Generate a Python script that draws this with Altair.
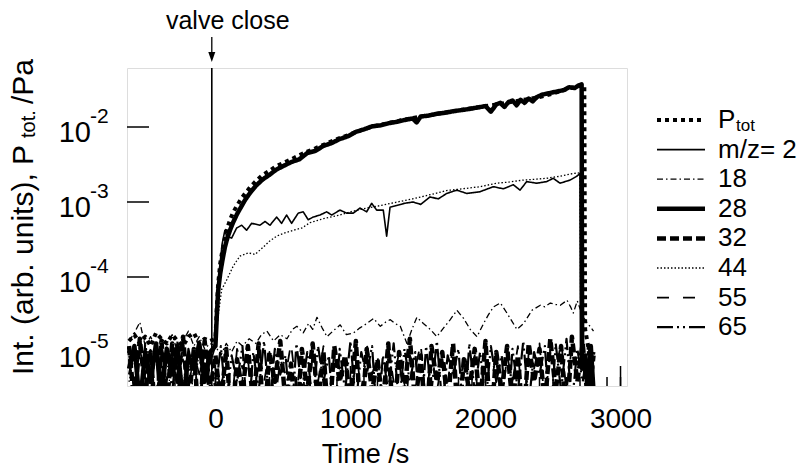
import altair as alt
import pandas as pd

# ---------------- data ----------------
SERIES = ["P_tot", "2", "18", "28", "32", "44", "55", "65"]
LEGEND_LABELS = ["P", "m/z= 2", "18", "28", "32", "44", "55", "65"]

# time grid before valve close (s)
PRE_T = [-640, -600, -560, -520, -480, -440, -400, -360, -320, -280, -240, -200, -160, -120, -80, -40]

# noise-level series time grid (s)
NOISE_T = [-640, -600, -560, -520, -480, -440, -400, -360, -320, -280, -240, -200, -160, -120, -80, -40,
           0, 40, 80, 120, 160, 200, 240, 280, 320, 360, 400, 440, 480, 520, 560, 600, 640, 680, 720, 760,
           800, 840, 880, 920, 960, 1000, 1040, 1080, 1120, 1160, 1200, 1240, 1280, 1320, 1360, 1400, 1440,
           1480, 1520, 1560, 1600, 1640, 1680, 1720, 1760, 1800, 1840, 1880, 1920, 1960, 2000, 2040, 2080,
           2120, 2160, 2200, 2240, 2280, 2320, 2360, 2400, 2440, 2480, 2520, 2560, 2600, 2640, 2680, 2720,
           2760, 2800]

# noise values in units of 1e-6
N32_U = [12, 2, 15, 3, 10, 1, 14, 2, 13, 4,
         16, 2, 11, 1, 14, 3, 9, 2, 11, 1,
         8, 3, 12, 2, 13, 1, 10, 4, 14, 2,
         7, 1, 11, 3, 13, 2, 10, 1, 12, 4,
         9, 2, 14, 1, 11, 3, 8, 2, 13, 1,
         10, 3, 15, 2, 9, 1, 12, 4, 10, 2,
         13, 1, 8, 3, 11, 2, 14, 1, 10, 3,
         12, 2, 9, 1, 13, 4, 11, 2, 15, 3,
         12, 1, 16, 4, 13, 2, 9]
N55_U = [9, 3, 13, 5, 11, 2, 12, 6, 10, 3,
         14, 4, 9, 2, 12, 5, 8, 3, 10, 2,
         11, 6, 9, 1, 12, 4, 10, 2, 8, 5,
         13, 3, 9, 1, 11, 4, 12, 2, 10, 6,
         8, 1, 11, 3, 13, 5, 9, 2, 12, 4,
         10, 1, 9, 6, 13, 2, 11, 3, 8, 4,
         12, 2, 10, 5, 9, 1, 13, 3, 11, 2,
         9, 4, 12, 1, 10, 6, 13, 2, 11, 5,
         14, 3, 12, 7, 10, 2, 8]
N65_U = [5, 11, 2, 13, 4, 10, 1, 12, 3, 14,
         2, 11, 5, 13, 1, 10, 3, 12, 2, 9,
         4, 12, 1, 10, 3, 14, 2, 11, 5, 9,
         1, 13, 3, 10, 2, 12, 4, 9, 1, 11,
         3, 14, 2, 10, 5, 12, 1, 9, 3, 13,
         2, 11, 4, 10, 1, 12, 3, 14, 2, 9,
         5, 11, 1, 13, 3, 10, 2, 12, 4, 9,
         1, 11, 3, 14, 2, 10, 5, 12, 1, 13,
         3, 15, 2, 11, 4, 12, 6]

# pre-valve values (units of 1e-6)
PT_PRE_U = [14, 17, 13, 16, 12, 18, 15, 13, 17, 14, 12, 16, 18, 13, 15, 14]
M2_PRE_U = [8, 3, 11, 5, 9, 2, 10, 4, 12, 6, 8, 3, 10, 5, 9, 7]
M28_PRE_U = [6, 12, 2, 10, 4, 13, 3, 11, 5, 12, 2, 9, 6, 13, 4, 10]
M44_PRE_U = [4, 9, 2, 7, 3, 10, 5, 8, 2, 9, 4, 7, 3, 10, 6, 8]

# m/z 18
M18_T = [-640, -600, -560, -520, -480, -440, -400, -360, -320, -280, -240, -200, -160, -120, -80, -40,
         0, 40, 80, 120, 160, 200, 250, 300, 340, 381, 430, 480, 530, 570, 603, 650, 690, 720, 752, 790,
         826, 870, 924, 970, 1024, 1070, 1122, 1171, 1221, 1260, 1295, 1330, 1369, 1418, 1455, 1492, 1540,
         1591, 1640, 1690, 1739, 1788, 1838, 1887, 1937, 1986, 2020, 2060, 2110, 2159, 2200, 2233, 2283,
         2344, 2406, 2440, 2480, 2520, 2554, 2604, 2630, 2650, 2680, 2720, 2750, 2774, 2800]
M18_U = [14, 18, 25, 12, 16, 11, 15, 13, 17, 10, 14, 19, 12, 16, 11, 13,
         12, 9, 13, 10, 14, 12, 15, 13, 17, 19, 14, 17, 15, 20, 22, 18, 24, 20, 29, 21,
         16, 19, 23, 17, 18, 21, 24, 28, 22, 25, 27, 24, 22, 13, 20, 29, 24,
         20, 16, 21, 27, 36, 28, 20, 16, 24, 31, 40, 45, 33, 25, 20, 24,
         36, 42, 40, 45, 43, 42, 49, 40, 33, 48, 30, 25, 22, 19]

# m/z 28 after valve close
M28_T_POST = [0, 10, 20, 35, 50, 70, 90, 110, 130, 160, 190, 220, 260, 300, 350, 400, 450, 500, 560, 620,
              680, 740, 800, 860, 920, 980, 1040, 1100, 1160, 1220, 1280, 1340, 1400, 1460, 1490, 1520, 1580,
              1640, 1700, 1760, 1820, 1880, 1940, 2000, 2040, 2080, 2110, 2140, 2170, 2200, 2230, 2260, 2290,
              2320, 2350, 2380, 2420, 2460, 2500, 2540, 2580, 2620, 2660, 2690, 2712, 2716, 2740, 2760, 2780, 2800]
M28_POST = [1.2e-5, 3e-5, 6.5e-5, 1.1e-4, 1.6e-4, 2.5e-4, 3.4e-4, 4.3e-4, 5.3e-4, 6.9e-4,
            8.6e-4, 1.07e-3, 1.35e-3, 1.65e-3, 2.0e-3, 2.3e-3, 2.7e-3, 3.0e-3, 3.4e-3, 3.7e-3,
            4.5e-3, 4.8e-3, 5.6e-3, 6.1e-3, 6.9e-3, 7.5e-3, 8.6e-3, 9.3e-3, 1.02e-2, 1.05e-2,
            1.12e-2, 1.17e-2, 1.24e-2, 1.3e-2, 1.15e-2, 1.38e-2, 1.42e-2, 1.5e-2, 1.55e-2, 1.62e-2,
            1.68e-2, 1.74e-2, 1.82e-2, 1.9e-2, 1.6e-2, 2.0e-2, 2.1e-2, 1.85e-2, 2.15e-2, 2.25e-2,
            1.95e-2, 2.3e-2, 2.1e-2, 2.4e-2, 2.2e-2, 2.5e-2, 2.7e-2, 2.8e-2, 2.9e-2, 3.0e-2,
            3.1e-2, 3.4e-2, 3.3e-2, 3.6e-2, 3.7e-2, 6e-6, 9e-6, 2e-6, 1.2e-5, 3e-6]

# total pressure after valve close
PT_T_POST = [0, 10, 20, 35, 50, 70, 90, 110, 130, 160, 190, 220, 260, 300, 350, 400, 450, 500, 560, 620,
             680, 740, 800, 900, 1000, 1100, 1200, 1300, 1400, 1500, 1600, 1700, 1800, 1900, 2000, 2100,
             2200, 2300, 2400, 2500, 2600, 2700, 2732, 2738, 2760, 2780, 2800]
PT_POST = [1.5e-5, 4e-5, 8e-5, 1.5e-4, 2.2e-4, 3.3e-4, 4.6e-4, 5.9e-4, 7.2e-4, 9e-4,
           1.1e-3, 1.3e-3, 1.6e-3, 1.9e-3, 2.3e-3, 2.6e-3, 3.0e-3, 3.3e-3, 3.7e-3, 4.2e-3,
           4.7e-3, 5.2e-3, 5.8e-3, 6.9e-3, 8.0e-3, 9.4e-3, 1.05e-2, 1.15e-2, 1.25e-2, 1.36e-2,
           1.46e-2, 1.56e-2, 1.67e-2, 1.78e-2, 1.9e-2, 2.02e-2, 2.17e-2, 2.33e-2, 2.5e-2, 2.8e-2,
           3.2e-2, 3.55e-2, 3.55e-2, 2e-5, 1.2e-5, 6e-6, 1e-5]

# m/z 2 after valve close
M2_T_POST = [0, 15, 30, 50, 70, 83, 120, 157, 194, 231, 268, 330, 367, 404, 453, 490, 527, 564, 613, 650,
             687, 724, 774, 824, 861, 922, 972, 1021, 1070, 1120, 1157, 1194, 1243, 1268, 1293, 1342, 1400,
             1463, 1520, 1589, 1650, 1713, 1787, 1861, 1959, 2058, 2132, 2206, 2256, 2305, 2379, 2453, 2502,
             2552, 2626, 2675, 2700, 2704, 2740, 2780, 2800]
M2_POST = [1.2e-5, 5e-5, 1.3e-4, 2.8e-4, 4.2e-4, 3.5e-4, 3.3e-4, 4.5e-4, 4.9e-4, 4.2e-4,
           5.2e-4, 4.9e-4, 5.5e-4, 4.9e-4, 6.3e-4, 5.2e-4, 6.7e-4, 5.2e-4, 7.1e-4, 7.4e-4,
           5.8e-4, 6.3e-4, 6.7e-4, 7.4e-4, 6.7e-4, 7.8e-4, 7.1e-4, 7.1e-4, 8.3e-4, 7.4e-4,
           9.6e-4, 7.8e-4, 7.8e-4, 3.5e-4, 8.5e-4, 9.0e-4, 9.6e-4, 1.0e-3, 9.3e-4, 1.17e-3,
           1.1e-3, 1.3e-3, 1.44e-3, 1.3e-3, 1.37e-3, 1.6e-3, 1.5e-3, 1.7e-3, 1.44e-3, 1.87e-3,
           1.78e-3, 1.87e-3, 2.07e-3, 1.78e-3, 1.96e-3, 2.2e-3, 2.4e-3, 1e-5, 6e-6, 1.1e-5,
           4e-6]

# m/z 44 after valve close
M44_T_POST = [0, 20, 46, 83, 132, 181, 243, 293, 354, 400, 453, 502, 576, 640, 700, 800, 920, 1000, 1120,
              1240, 1370, 1460, 1590, 1710, 1830, 1960, 2080, 2180, 2280, 2380, 2450, 2550, 2650, 2700, 2706,
              2740, 2780, 2800]
M44_POST = [1.2e-5, 3e-5, 6.8e-5, 9.1e-5, 1.4e-4, 1.9e-4, 2.1e-4, 2.0e-4, 2.5e-4, 3.0e-4,
            3.5e-4, 3.8e-4, 4.2e-4, 4.5e-4, 5.3e-4, 6.0e-4, 6.7e-4, 7.4e-4, 8.3e-4, 9.1e-4,
            1.02e-3, 1.1e-3, 1.25e-3, 1.42e-3, 1.5e-3, 1.6e-3, 1.78e-3, 1.85e-3, 1.96e-3, 2.02e-3,
            2.07e-3, 2.2e-3, 2.4e-3, 2.45e-3, 1e-5, 5e-6, 9e-6, 3e-6]

VALVE_T = -27
X_LABELS = [0, 1000, 2000, 3000]
X_MINOR = [-600, -500, -400, -300, -200, -100, 0, 100, 200, 300, 400, 500, 600, 700, 800, 900, 1000,
           1100, 1200, 1300, 1400, 1500, 1600, 1700, 1800, 1900, 2000, 2100, 2200, 2300, 2400, 2500, 2600,
           2700, 2800, 2900, 3000]
X_MAJOR = [0, 1000, 2000, 3000]
Y_TICKS = [1e-2, 1e-3, 1e-4, 1e-5]
Y_EXP = ["-2", "-3", "-4", "-5"]

# ---------------- styles ----------------
DASH = [[4, 4], [1, 0], [6, 3, 1.5, 3], [1, 0], [9, 4], [1.5, 2], [12, 14], [16, 4, 2, 4, 2, 4]]
WIDTH = [4, 1.6, 1.3, 4.5, 4.5, 1.3, 1.8, 2.2]
FONT = "Liberation Sans"

U = 1e-6
series_data = [
    ("P_tot", PRE_T + PT_T_POST, [v * U for v in PT_PRE_U] + PT_POST),
    ("2", PRE_T + M2_T_POST, [v * U for v in M2_PRE_U] + M2_POST),
    ("18", M18_T, [v * U for v in M18_U]),
    ("28", PRE_T + M28_T_POST, [v * U for v in M28_PRE_U] + M28_POST),
    ("32", NOISE_T, [v * U for v in N32_U]),
    ("44", PRE_T + M44_T_POST, [v * U for v in M44_PRE_U] + M44_POST),
    ("55", NOISE_T, [v * U for v in N55_U]),
    ("65", NOISE_T, [v * U for v in N65_U]),
]
rows = []
for name, ts, vs in series_data:
    assert len(ts) == len(vs), (name, len(ts), len(vs))
    for t, v in zip(ts, vs):
        rows.append({"t": t, "v": v, "s": name})
df = pd.DataFrame(rows)

W, H = 500, 318
X_SCALE = alt.Scale(domain=[-655, 3048], nice=False, zero=False)
Y_SCALE = alt.Scale(type="log", domain=[3.52e-6, 6.12e-2], nice=False)
DASH_SCALE = alt.Scale(type="ordinal", domain=SERIES, range=DASH)
WIDTH_SCALE = alt.Scale(type="ordinal", domain=SERIES, range=WIDTH)

X_AXIS = alt.Axis(values=X_LABELS, format="d", ticks=False, tickSize=0, domain=False, grid=False,
                  labelFontSize=28, labelColor="black", labelPadding=19, labelFont=FONT,
                  title="Time /s", titleFontSize=27, titleFontWeight="normal", titleColor="black",
                  titleFont=FONT, titleX=238, titleY=76, titleBaseline="alphabetic")


def xenc(field="t"):
    return alt.X(f"{field}:Q", scale=X_SCALE, axis=X_AXIS)


def yenc(field="v"):
    return alt.Y(f"{field}:Q", scale=Y_SCALE, axis=None)


lines = alt.Chart(df).mark_line(clip=True, color="black", strokeJoin="round").encode(
    x=xenc(), y=yenc(),
    strokeDash=alt.StrokeDash("s:N", scale=DASH_SCALE, legend=None),
    strokeWidth=alt.StrokeWidth("s:N", scale=WIDTH_SCALE, legend=None),
    detail="s:N",
)

yticks = alt.Chart(pd.DataFrame({"v": Y_TICKS})).mark_rule(color="black", strokeWidth=1.5).encode(
    y=yenc(), x=alt.value(0), x2=alt.value(22))

ylab_df = pd.DataFrame({"v": Y_TICKS, "e": Y_EXP})
ylab10 = alt.Chart(ylab_df).mark_text(text="10", align="right", baseline="alphabetic", fontSize=29,
                                       dy=15, color="black", font=FONT).encode(y=yenc(), x=alt.value(-36))
ylabexp = alt.Chart(ylab_df).mark_text(align="left", baseline="alphabetic", fontSize=21, dy=-4,
                                        color="black", font=FONT).encode(y=yenc(), x=alt.value(-37), text="e:N")

xminor = alt.Chart(pd.DataFrame({"t": X_MINOR})).mark_rule(color="black", strokeWidth=1.5).encode(
    x=xenc(), y=alt.value(H), y2=alt.value(H - 9))
xmajor = alt.Chart(pd.DataFrame({"t": X_MAJOR})).mark_rule(color="black", strokeWidth=1.5).encode(
    x=xenc(), y=alt.value(H), y2=alt.value(H - 20))

valve_df = pd.DataFrame({"t": [VALVE_T], "lab": ["valve close"]})
valve_line = alt.Chart(valve_df).mark_rule(color="black", strokeWidth=1.6).encode(
    x=xenc(), y=alt.value(0), y2=alt.value(H))
arrow_shaft = alt.Chart(valve_df).mark_rule(color="black", strokeWidth=1.3).encode(
    x=xenc(), y=alt.value(-31), y2=alt.value(-9))
arrow_head = alt.Chart(valve_df).mark_point(shape="M-0.7,-2L0.7,-2L0,0Z", filled=True, color="black",
                                             size=100, opacity=1).encode(x=xenc(), y=alt.value(-6))
valve_text = alt.Chart(valve_df).mark_text(align="center", baseline="alphabetic", fontSize=25, dx=16,
                                           color="black", font=FONT).encode(x=xenc(), y=alt.value(-39),
                                                                            text="lab:N")

# y-axis title (rotated, with subscript)
ytitle1 = alt.Chart(valve_df).mark_text(text="Int. (arb. units), P", angle=270, align="left",
                                         baseline="alphabetic", fontSize=30, color="black", font=FONT).encode(
    x=alt.value(-94), y=alt.value(307))
ytitle2 = alt.Chart(valve_df).mark_text(text="tot.", angle=270, align="left", baseline="alphabetic",
                                         fontSize=20, color="black", font=FONT).encode(
    x=alt.value(-92), y=alt.value(70))
ytitle3 = alt.Chart(valve_df).mark_text(text="/Pa", angle=270, align="left", baseline="alphabetic",
                                         fontSize=30, color="black", font=FONT).encode(
    x=alt.value(-94), y=alt.value(36))

# legend
leg_df = pd.DataFrame({"s": SERIES, "lab": LEGEND_LABELS})
LEG_Y = alt.Y("s:N", scale=alt.Scale(type="point", domain=SERIES, range=[52, 259.2], padding=0), axis=None)
leg_lines = alt.Chart(leg_df).mark_rule(color="black").encode(
    y=LEG_Y, x=alt.value(530), x2=alt.value(578),
    strokeDash=alt.StrokeDash("s:N", scale=DASH_SCALE, legend=None),
    strokeWidth=alt.StrokeWidth("s:N", scale=WIDTH_SCALE, legend=None),
)
leg_text = alt.Chart(leg_df).mark_text(align="left", baseline="middle", fontSize=26, color="black",
                                       font=FONT).encode(y=LEG_Y, x=alt.value(591), text="lab:N")
leg_sub = alt.Chart(valve_df).mark_text(text="tot", align="left", baseline="alphabetic", fontSize=17,
                                        color="black", font=FONT).encode(x=alt.value(609), y=alt.value(63))

chart = alt.layer(
    lines, yticks, ylab10, ylabexp, xminor, xmajor, valve_line, arrow_shaft, arrow_head, valve_text,
    ytitle1, ytitle2, ytitle3, leg_lines, leg_text, leg_sub
).resolve_scale(y="independent").properties(
    width=W, height=H,
    autosize=alt.AutoSizeParams(type="none"),
    padding={"left": 127, "top": 68, "right": 170, "bottom": 83},
    background="white",
).configure_view(stroke="black", strokeWidth=2).configure(font=FONT)

chart.save("out.html", embed_options={"renderer": "svg", "actions": False})
